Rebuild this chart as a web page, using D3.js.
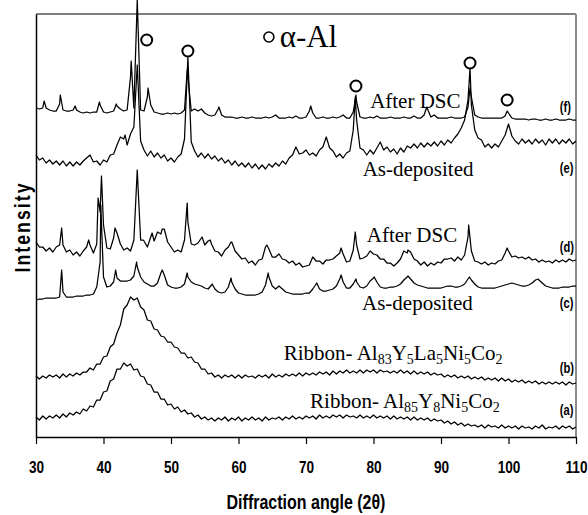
<!DOCTYPE html>
<html>
<head>
<meta charset="utf-8">
<script src="https://cdnjs.cloudflare.com/ajax/libs/d3/7.8.5/d3.min.js"></script>
<style>
  body { margin: 0; background: #fff; }
</style>
</head>
<body>
<svg id="chart"></svg>
<script>
// 2theta sampling grid of the scans (30..110 deg, every 0.5 deg)
const twoTheta = d3.range(30, 110.001, 0.5);
const xTicks = [30, 40, 50, 60, 70, 80, 90, 100, 110];

// intensities (a.u., stacked), one value per grid point
const scanA = [
  20,17,21,18,21,19,22,19,23,20,24,22,25,23,28,26,31,30,37,37,
  45,46,56,58,68,68,74,71,73,67,68,61,60,53,52,45,45,38,38,32,
  33,28,30,25,27,23,24,20,22,18,20,17,19,16,19,17,20,16,19,17,
  20,16,19,17,20,17,19,16,20,17,19,18,20,17,20,18,21,18,20,18,
  21,19,21,18,22,19,21,19,22,20,22,19,22,20,21,19,22,19,21,19,
  22,19,21,19,21,18,21,18,20,18,20,17,20,17,19,17,19,16,18,16,
  17,14,16,13,15,12,14,11,13,11,12,10,12,9,12,10,11,9,12,9,
  11,9,11,8,11,9,10,8,11,9,12,8,10,9,11,8,11,9,11,8,
  10];
const scanB = [
  61,58,61,59,62,60,62,59,63,60,63,61,64,62,65,65,69,67,73,73,
  80,81,90,93,104,112,128,132,140,137,139,130,127,117,116,108,107,101,100,95,
  95,90,89,84,84,79,80,75,74,68,68,63,64,60,62,59,62,60,62,59,
  62,59,62,60,61,59,62,60,62,59,63,60,62,60,63,61,63,61,64,61,
  64,62,64,62,65,63,65,62,66,63,66,64,67,64,66,64,67,64,67,65,
  67,64,67,65,66,64,66,64,67,64,66,63,66,63,65,63,65,62,64,62,
  63,60,62,60,62,59,61,59,61,58,60,58,60,57,59,57,59,56,59,56,
  58,55,57,55,57,54,56,54,56,53,55,53,55,53,55,53,55,52,55,53,
  54];
const scanC = [
  137,138,138,139,139,139,139,140,145,140,140,140,141,141,141,142,142,143,150,175,
  160,150,151,155,159,156,156,156,157,161,170,160,155,153,151,151,154,164,162,152,
  150,149,149,150,153,160,155,153,152,151,149,148,152,148,145,144,145,150,155,148,
  144,143,142,142,142,142,143,145,152,160,151,148,151,148,145,144,143,143,143,143,
  144,144,148,153,148,146,146,147,148,151,158,155,149,149,153,155,150,149,151,156,
  159,155,150,149,149,150,150,151,153,157,160,158,154,152,151,150,149,149,149,149,
  149,150,151,151,150,150,151,153,158,157,153,150,149,149,149,149,149,150,151,152,
  153,154,153,152,151,151,152,154,157,157,154,151,150,149,149,149,150,150,150,151,
  151];
const scanD = [
  195,190,190,186,189,185,190,192,192,185,187,182,185,181,186,190,192,184,193,225,
  212,189,188,199,204,193,187,189,186,197,267,197,196,190,200,196,205,203,208,195,
  190,185,187,185,197,215,193,192,194,199,192,196,193,186,185,181,187,190,195,186,
  182,178,179,174,176,172,177,178,190,188,180,180,183,178,177,174,176,172,174,170,
  171,172,180,176,176,173,177,177,178,181,184,183,175,176,187,192,178,179,181,186,
  183,182,178,178,174,174,171,174,178,186,184,185,178,176,172,175,171,174,172,175,
  174,178,178,179,176,180,177,182,200,186,176,175,173,175,172,174,173,176,177,184,
  186,180,181,179,180,178,180,177,178,175,177,175,176,174,177,175,177,175,178,176,
  177];
const scanE = [
  282,277,279,274,277,273,276,272,276,271,275,271,275,272,276,279,282,275,276,272,
  277,275,282,283,292,300,298,292,303,310,372,296,287,281,286,280,284,279,282,276,
  279,275,280,283,298,380,295,286,280,284,279,283,278,281,276,279,274,277,272,276,
  271,274,270,274,269,273,268,272,268,273,270,274,271,276,273,279,282,290,283,284,
  287,282,284,281,287,290,300,289,286,280,283,279,284,286,307,317,289,287,282,287,
  283,289,295,287,290,285,288,283,289,285,291,289,293,289,294,290,294,291,295,291,
  296,292,297,294,299,303,309,317,337,332,307,299,297,290,293,289,293,290,296,302,
  313,301,296,293,298,294,297,293,298,294,297,292,298,294,298,293,297,294,298,293,
  296];
const scanF = [
  329,328,329,329,327,326,326,333,327,326,326,327,327,325,324,325,324,325,325,332,
  325,324,325,326,331,328,326,327,360,329,437,327,326,340,332,325,324,323,323,324,
  323,324,323,324,327,360,326,328,326,328,324,322,321,322,328,322,320,320,320,319,
  319,320,319,319,320,319,319,319,320,319,320,322,319,319,319,320,319,321,319,319,
  320,326,324,319,319,320,319,319,320,319,320,322,319,319,325,335,320,319,319,320,
  319,321,319,319,319,320,319,319,319,320,319,319,321,319,319,322,328,320,322,319,
  319,319,319,320,319,319,319,320,330,340,322,320,319,319,319,319,319,319,319,321,
  324,319,318,318,318,318,317,318,318,317,317,318,317,317,318,317,317,317,318,317,
  317];

// sharp reflections between grid points [2theta, intensity]
const peaksA = [];
const peaksB = [];
const peaksC = [[33.8,167],[39.6,232],[41.8,167],[44.9,175],[48.7,167],[52.4,164],[56.1,153],[58.9,159],
  [64.4,164],[71.6,154],[75.2,162],[77.4,158],[80.1,160],[85.1,161],[94.2,160],[104.4,158]];
const peaksD = [[33.8,209],[37.8,197],[39.2,239],[39.7,261],[41.7,209],[45.9,197],[47.2,204],[48.7,208],
  [52.4,234],[54.6,200],[55.8,197],[58.9,195],[64.2,192],[75.2,189],[77.3,205],[85.1,187],[94.1,212],[99.8,189]];
const peaksE = [[43.2,302],[77.3,340],[94.3,369]];
const peaksF = [[31.2,336],[33.6,342],[35.8,331],[39.4,335],[41.9,333],[44.1,376],[46.6,349],[52.4,367],
  [57.1,330],[70.7,331],[77.4,342],[87.9,330],[94.3,349],[99.8,326]];

// alpha-Al reflections marked with circles
const alThetas = [46.4, 52.5, 77.4, 94.3, 99.8];
const alLevels = [397, 386, 351, 374, 337];

// trace annotations
const traceTags = ['(a)', '(b)', '(c)', '(d)', '(e)', '(f)'];
const tagLevels = [22, 64, 129, 185, 264, 325];
const stateNames = ['After DSC', 'As-deposited', 'After DSC', 'As-deposited'];
const stateTheta = [79.5, 78.4, 79.0, 78.3];
const stateLevels = [329, 261, 195, 127];
const ribbonA = [['Ribbon- Al', 0], ['85', 1], ['Y', 0], ['8', 1], ['Ni', 0], ['5', 1], ['Co', 0], ['2', 1]];
const ribbonB = [['Ribbon- Al', 0], ['83', 1], ['Y', 0], ['5', 1], ['La', 0], ['5', 1], ['Ni', 0], ['5', 1], ['Co', 0], ['2', 1]];

const width = 588, height = 515;
const svg = d3.select('#chart').attr('width', width).attr('height', height);

const x = d3.scaleLinear().domain([30, 110]).range([36, 576]);
const y = d3.scaleLinear().domain([0, 423]).range([437, 14]);

const serif = '"Liberation Serif", "Times New Roman", serif';
const sans = '"Liberation Sans", Arial, sans-serif';
const squeeze = 0.8; // no narrow face installed, so condense the sans by hand

function series(scan, peaks) {
  return scan.map((v, i) => [twoTheta[i], v]).concat(peaks).sort((a, b) => a[0] - b[0]);
}

const line = d3.line().x(d => x(d[0])).y(d => y(d[1]));

// frame
svg.append('line')
  .attr('x1', x(30)).attr('x2', x(110)).attr('y1', y(423)).attr('y2', y(423))
  .attr('stroke', '#000').attr('stroke-width', 1);
svg.append('line')
  .attr('x1', x(110)).attr('x2', x(110)).attr('y1', y(423)).attr('y2', y(0))
  .attr('stroke', '#8c8c8c').attr('stroke-width', 2);

// traces
[[scanA, peaksA], [scanB, peaksB], [scanC, peaksC], [scanD, peaksD], [scanE, peaksE], [scanF, peaksF]]
  .forEach(([s, p]) => {
    svg.append('path')
      .datum(series(s, p))
      .attr('d', line)
      .attr('fill', 'none')
      .attr('stroke', '#000')
      .attr('stroke-width', 1.25)
      .attr('stroke-linejoin', 'round');
  });

// axes
const xAxis = svg.append('g')
  .attr('transform', `translate(0,${y(0)})`)
  .call(d3.axisBottom(x).tickValues(xTicks).tickSize(7).tickSizeOuter(0).tickPadding(17));
xAxis.select('.domain').attr('stroke', '#000').attr('stroke-width', 1.5);
xAxis.selectAll('.tick line').attr('stroke-width', 1.2);
xAxis.selectAll('.tick text')
  .attr('font-family', sans).attr('font-weight', 'bold').attr('font-size', 17).attr('fill', '#000')
  .attr('transform', `scale(${squeeze},1)`);

const yAxis = svg.append('g')
  .attr('transform', `translate(${x(30)},0)`)
  .call(d3.axisLeft(y).tickValues([]).tickSizeOuter(0));
yAxis.select('.domain').attr('stroke', '#000').attr('stroke-width', 1.5);

svg.append('text')
  .attr('transform', `translate(${(x(30) + x(110)) / 2},509) scale(${squeeze},1)`)
  .attr('text-anchor', 'middle')
  .attr('font-family', sans).attr('font-weight', 'bold').attr('font-size', 20)
  .text('Diffraction angle (2θ)');

svg.append('text')
  .attr('transform', `translate(30,227) rotate(-90) scale(${squeeze},1)`)
  .attr('text-anchor', 'middle')
  .attr('font-family', sans).attr('font-weight', 'bold').attr('font-size', 22)
  .attr('letter-spacing', 2.6)
  .text('Intensity');

// alpha-Al markers
svg.selectAll('.al')
  .data(alThetas)
  .enter().append('circle')
  .attr('class', 'al')
  .attr('cx', d => x(d))
  .attr('cy', (d, i) => y(alLevels[i]))
  .attr('r', 5.5)
  .attr('fill', '#fff')
  .attr('stroke', '#000')
  .attr('stroke-width', 2);

svg.append('circle')
  .attr('cx', x(64.5)).attr('cy', y(400)).attr('r', 5)
  .attr('fill', '#fff').attr('stroke', '#000').attr('stroke-width', 1.6);
svg.append('text')
  .attr('x', x(66.1)).attr('y', y(390))
  .attr('font-family', serif).attr('font-size', 31)
  .text('α-Al');

// state labels
svg.selectAll('.state')
  .data(stateNames)
  .enter().append('text')
  .attr('class', 'state')
  .attr('x', (d, i) => x(stateTheta[i]))
  .attr('y', (d, i) => y(stateLevels[i]))
  .attr('font-family', serif).attr('font-size', 21)
  .text(d => d);

function formula(parts, theta, level) {
  const t = svg.append('text')
    .attr('x', x(theta)).attr('y', y(level))
    .attr('font-family', serif).attr('font-size', 21);
  let shifted = false;
  parts.forEach(([s, sub]) => {
    const ts = t.append('tspan').text(s);
    if (sub && !shifted) { ts.attr('dy', 4).attr('font-size', 14); shifted = true; }
    else if (sub) { ts.attr('font-size', 14); }
    else if (shifted) { ts.attr('dy', -4); shifted = false; }
  });
}
formula(ribbonB, 66.7, 77);
formula(ribbonA, 70.6, 29);

// (a)..(f)
svg.selectAll('.tag')
  .data(traceTags)
  .enter().append('text')
  .attr('class', 'tag')
  .attr('transform', (d, i) => `translate(${x(107.6)},${y(tagLevels[i])}) scale(${squeeze},1)`)
  .attr('font-family', sans).attr('font-weight', 'bold').attr('font-size', 14)
  .text(d => d);
</script>
</body>
</html>
